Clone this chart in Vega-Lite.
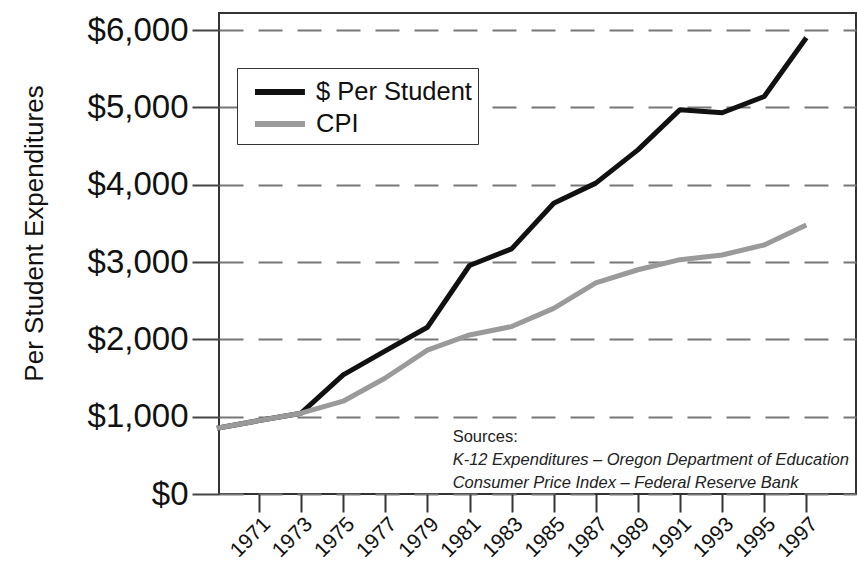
{
  "$schema": "https://vega.github.io/schema/vega-lite/v6.json",
  "width": 637,
  "height": 481,
  "autosize": "none",
  "padding": {"left": 219, "top": 13, "right": 1, "bottom": 72},
  "background": "white",
  "config": {
    "font": "Liberation Sans",
    "view": {"stroke": "#333", "strokeWidth": 2}
  },
  "data": {
    "values": [
      {"year": 1969, "series": "$ Per Student", "value": 850},
      {"year": 1971, "series": "$ Per Student", "value": 950},
      {"year": 1973, "series": "$ Per Student", "value": 1045},
      {"year": 1975, "series": "$ Per Student", "value": 1540},
      {"year": 1977, "series": "$ Per Student", "value": 1850},
      {"year": 1979, "series": "$ Per Student", "value": 2156},
      {"year": 1981, "series": "$ Per Student", "value": 2955},
      {"year": 1983, "series": "$ Per Student", "value": 3170},
      {"year": 1985, "series": "$ Per Student", "value": 3760},
      {"year": 1987, "series": "$ Per Student", "value": 4020},
      {"year": 1989, "series": "$ Per Student", "value": 4450},
      {"year": 1991, "series": "$ Per Student", "value": 4970},
      {"year": 1993, "series": "$ Per Student", "value": 4930},
      {"year": 1995, "series": "$ Per Student", "value": 5140},
      {"year": 1997, "series": "$ Per Student", "value": 5900},
      {"year": 1969, "series": "CPI", "value": 850},
      {"year": 1971, "series": "CPI", "value": 950},
      {"year": 1973, "series": "CPI", "value": 1045},
      {"year": 1975, "series": "CPI", "value": 1200},
      {"year": 1977, "series": "CPI", "value": 1500},
      {"year": 1979, "series": "CPI", "value": 1860},
      {"year": 1981, "series": "CPI", "value": 2057},
      {"year": 1983, "series": "CPI", "value": 2165},
      {"year": 1985, "series": "CPI", "value": 2400},
      {"year": 1987, "series": "CPI", "value": 2730},
      {"year": 1989, "series": "CPI", "value": 2900},
      {"year": 1991, "series": "CPI", "value": 3030},
      {"year": 1993, "series": "CPI", "value": 3090},
      {"year": 1995, "series": "CPI", "value": 3220},
      {"year": 1997, "series": "CPI", "value": 3480}
    ]
  },
  "layer": [
    {
      "mark": {"type": "line", "strokeWidth": 5, "strokeJoin": "round"},
      "encoding": {
        "x": {
          "field": "year",
          "type": "quantitative",
          "scale": {"domain": [1969.1, 1999.36], "nice": false, "zero": false},
          "axis": {
            "title": null,
            "values": [1971, 1973, 1975, 1977, 1979, 1981, 1983, 1985, 1987, 1989, 1991, 1993, 1995, 1997],
            "format": "d",
            "labelAngle": -45,
            "labelFontSize": 21,
            "labelColor": "#111",
            "labelPadding": 1,
            "labelOverlap": false,
            "labelFlush": false,
            "tickSize": 18,
            "tickWidth": 2,
            "tickColor": "#333",
            "domain": false,
            "grid": false
          }
        },
        "y": {
          "field": "value",
          "type": "quantitative",
          "scale": {"domain": [0, 6220], "nice": false},
          "axis": {
            "title": "Per Student Expenditures",
            "titleFontSize": 26,
            "titleFontWeight": "normal",
            "titleColor": "#111",
            "titleX": -172,
            "titleY": 220,
            "values": [0, 1000, 2000, 3000, 4000, 5000, 6000],
            "format": "$,d",
            "labelFontSize": 33,
            "labelColor": "#111",
            "labelPadding": 4,
            "labelOverlap": false,
            "labelFlush": false,
            "tickSize": 27,
            "tickWidth": 2,
            "tickColor": "#444",
            "domain": false,
            "grid": true,
            "gridColor": "#777",
            "gridWidth": 2,
            "gridDash": [24, 15]
          }
        },
        "color": {
          "field": "series",
          "type": "nominal",
          "scale": {"domain": ["$ Per Student", "CPI"], "range": ["#111111", "#9a9a9a"]},
          "legend": {
            "title": null,
            "orient": "none",
            "legendX": 18,
            "legendY": 55,
            "strokeColor": "#333",
            "fillColor": "white",
            "padding": 6,
            "symbolType": "M-0.4,0H2.93",
            "symbolSize": 900,
            "symbolStrokeWidth": 6,
            "labelFontSize": 25.5,
            "labelColor": "#111",
            "labelOffset": 37,
            "rowPadding": 0
          }
        }
      }
    },
    {
      "data": {"values": [{}]},
      "mark": {"type": "text", "text": "Sources:", "align": "left", "baseline": "middle", "fontSize": 16.5, "color": "#222"},
      "encoding": {"x": {"datum": 1980.2}, "y": {"datum": 737}}
    },
    {
      "data": {"values": [{}]},
      "mark": {"type": "text", "text": "K-12 Expenditures – Oregon Department of Education", "align": "left", "baseline": "middle", "fontSize": 16.5, "fontStyle": "italic", "color": "#222"},
      "encoding": {"x": {"datum": 1980.2}, "y": {"datum": 440}}
    },
    {
      "data": {"values": [{}]},
      "mark": {"type": "text", "text": "Consumer Price Index – Federal Reserve Bank", "align": "left", "baseline": "middle", "fontSize": 16.5, "fontStyle": "italic", "color": "#222"},
      "encoding": {"x": {"datum": 1980.2}, "y": {"datum": 142}}
    }
  ]
}
